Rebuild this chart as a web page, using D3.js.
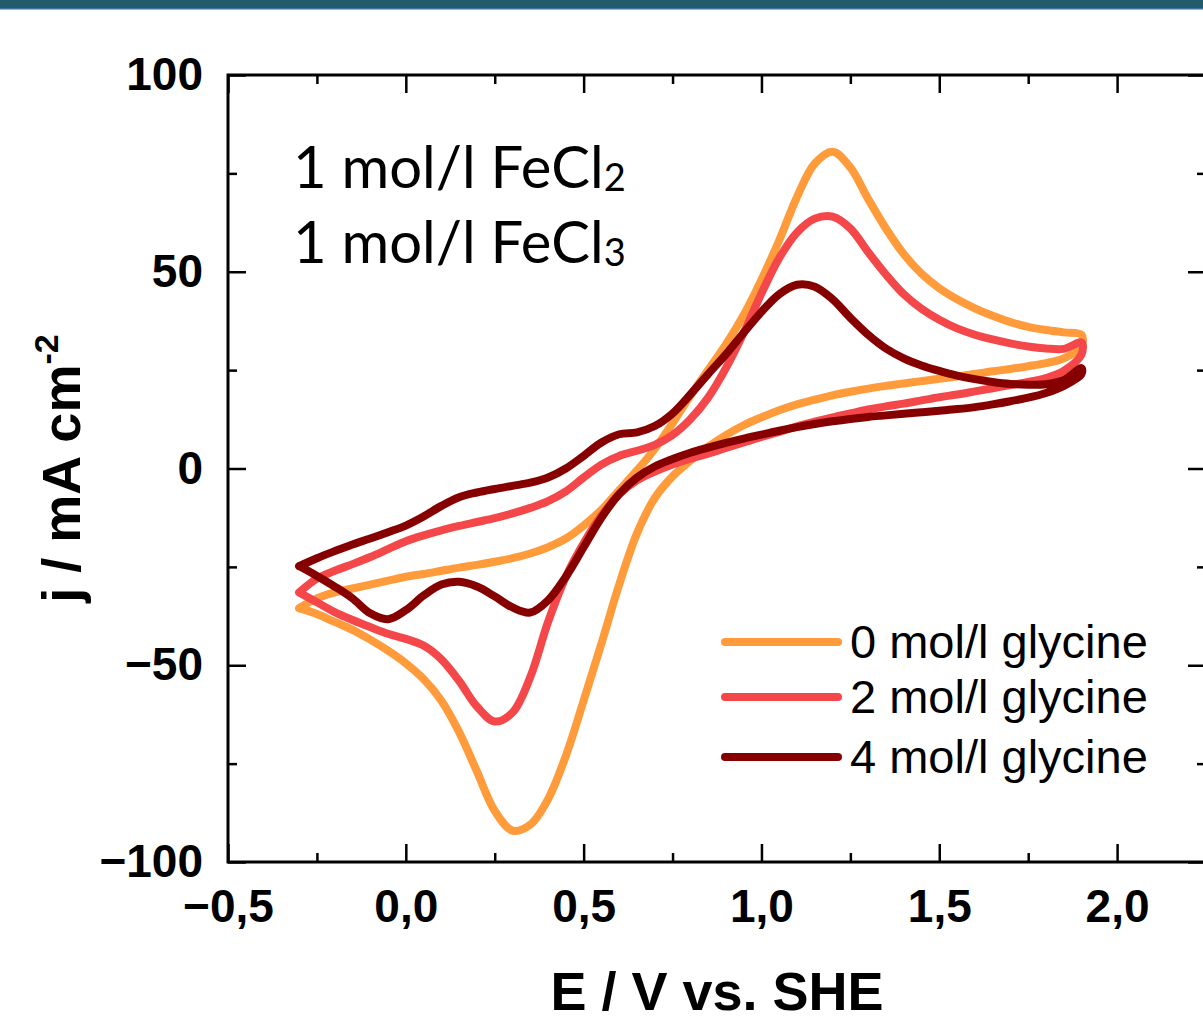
<!DOCTYPE html>
<html>
<head>
<meta charset="utf-8">
<style>
  body { margin: 0; background: #fff; }
  .tick text { font-family: "Liberation Sans", Arial, sans-serif; font-weight: bold; font-size: 46px; fill: #000; }
  .tick line { stroke: #000; stroke-width: 2.5; }
  .cv { fill: none; stroke-width: 8; stroke-linejoin: round; stroke-linecap: round; }
</style>
<title>CV glycine</title>
</head>
<body>
<svg width="1203" height="1016"></svg>
<script src="https://d3js.org/d3.v7.min.js"></script>
<script>
// potential grid (V vs. SHE), both scan directions share it
const potential = [-0.30, -0.25, -0.20, -0.15, -0.10, -0.05, 0.00, 0.05, 0.10, 0.15,
  0.20, 0.25, 0.30, 0.35, 0.40, 0.45, 0.50, 0.55, 0.60, 0.65,
  0.70, 0.75, 0.80, 0.85, 0.90, 0.95, 1.00, 1.05, 1.10, 1.15,
  1.20, 1.25, 1.30, 1.35, 1.40, 1.45, 1.50, 1.55, 1.60, 1.65,
  1.70, 1.75, 1.80, 1.85, 1.90];

// current density, mA cm-2 ; forward = anodic scan, reverse = cathodic scan (listed low -> high E)
const gly0Forward = [-35.5, -33, -31.5, -30.5, -29.5, -28.5, -27.5, -26.8, -26, -25.2,
  -24.5, -23.7, -22.8, -21.6, -20, -17.8, -14.5, -10.5, -5.5, -0.5,
  5, 11.5, 18.5, 25, 31.5, 39, 48, 58, 69, 77.5,
  80.5, 76.5, 68.5, 61, 54.5, 49.5, 45.8, 43, 40.7, 38.8,
  37.2, 36, 35.2, 34.6, 34];
const gly0Reverse = [-35.5, -37, -39, -41, -43.5, -46.3, -49.5, -53.5, -59, -67,
  -77, -87, -92, -90.5, -84, -73, -59, -44.5, -29.5, -16.5,
  -7.5, -2, 2, 5.5, 8.5, 11, 13, 14.8, 16.3, 17.5,
  18.6, 19.5, 20.3, 21, 21.6, 22.2, 22.8, 23.4, 24, 24.7,
  25.3, 26, 26.8, 28, 31];

const gly2Forward = [-31.5, -28, -26, -24.3, -22.5, -20.5, -18.5, -17, -15.7, -14.6,
  -13.6, -12.6, -11.4, -10, -8.3, -5.8, -2.3, 1, 3.2, 4.5,
  6, 8.5, 12.5, 18, 25.5, 34.5, 44.5, 53.5, 60, 63.5,
  64, 61, 55, 49.3, 44.3, 40.6, 37.8, 35.6, 34, 32.8,
  31.8, 31, 30.5, 30.4, 32];
const gly2Reverse = [-31.5, -34, -36.5, -38.5, -40.3, -42, -43.3, -45, -48.5, -54,
  -60.5, -64.3, -62, -53, -39, -27.5, -19, -12, -6.5, -3,
  -0.8, 1, 2.5, 3.8, 5.2, 6.6, 8, 9.3, 10.7, 11.9,
  13, 14, 15, 15.8, 16.5, 17.3, 18.1, 18.8, 19.6, 20.4,
  21.2, 22, 23, 24.8, 29];

const gly4Forward = [-24.8, -22.8, -21, -19.3, -17.8, -16.2, -14.5, -12.2, -9.5, -7.3,
  -6.1, -5.2, -4.4, -3.6, -2.3, 0, 3.2, 6.6, 8.7, 9.2,
  10.8, 14, 18.8, 24, 29, 34.5, 39.8, 44.3, 46.7, 46.2,
  43, 38.3, 34, 30.5, 28, 26.2, 24.8, 23.6, 22.7, 22,
  21.5, 21.3, 21.4, 22.5, 25.5];
const gly4Reverse = [-24.8, -27.3, -30, -33, -36.8, -38.3, -36, -32.3, -29.5, -28.8,
  -30, -32.5, -35.3, -36.6, -33.5, -27.5, -20, -12.5, -6.5, -2.3,
  0.5, 2.4, 4, 5.3, 6.5, 7.6, 8.6, 9.6, 10.5, 11.3,
  12, 12.6, 13.1, 13.5, 13.9, 14.3, 14.7, 15.1, 15.6, 16.3,
  17.1, 18, 19.2, 21, 24];

const seriesNames = ["0 mol/l glycine", "2 mol/l glycine", "4 mol/l glycine"];
const seriesColors = ["#ff9b3a", "#f4474a", "#860000"];

const xTicks = [-0.5, 0, 0.5, 1, 1.5, 2];
const xTickLabels = ["\u22120,5", "0,0", "0,5", "1,0", "1,5", "2,0"];
const xMinorTicks = [-0.25, 0.25, 0.75, 1.25, 1.75];
const yTicks = [-100, -50, 0, 50, 100];
const yTickLabels = ["\u2212100", "\u221250", "0", "50", "100"];
const yMinorTicks = [-75, -25, 25, 75];

var svg = d3.select("svg"),
    width = +svg.attr("width"),
    height = +svg.attr("height");

svg.append("rect").attr("width", width).attr("height", height).attr("fill", "#fff");

// header band
svg.append("rect").attr("x", 0).attr("y", 0).attr("width", width).attr("height", 9).attr("fill", "#235a6c");
svg.append("rect").attr("x", 0).attr("y", 8).attr("width", width).attr("height", 1.5).attr("fill", "#3f7397");

var plot = { left: 228, right: 1206, top: 75, bottom: 862 };

var x = d3.scaleLinear().domain([-0.5, 2.25]).range([plot.left, plot.right]);
var y = d3.scaleLinear().domain([-100, 100]).range([plot.bottom, plot.top]);

// axes, inward ticks on all four sides
function addAxis(axis, tx, ty) {
  var g = svg.append("g").attr("transform", "translate(" + tx + "," + ty + ")").call(axis);
  g.select(".domain").remove();
  return g;
}

addAxis(d3.axisBottom(x).tickValues(xTicks).tickSize(-18).tickPadding(27)
  .tickFormat(function(d, i) { return xTickLabels[i]; }), 0, plot.bottom);
addAxis(d3.axisBottom(x).tickValues(xMinorTicks).tickSize(-9).tickFormat(""), 0, plot.bottom);
addAxis(d3.axisTop(x).tickValues(xTicks).tickSize(-18).tickFormat(""), 0, plot.top);
addAxis(d3.axisTop(x).tickValues(xMinorTicks).tickSize(-9).tickFormat(""), 0, plot.top);

addAxis(d3.axisLeft(y).tickValues(yTicks).tickSize(-18).tickPadding(25)
  .tickFormat(function(d, i) { return yTickLabels[i]; }), plot.left, 0);
addAxis(d3.axisLeft(y).tickValues(yMinorTicks).tickSize(-9).tickFormat(""), plot.left, 0);
addAxis(d3.axisRight(y).tickValues(yTicks).tickSize(-18).tickFormat(""), plot.right, 0);
addAxis(d3.axisRight(y).tickValues(yMinorTicks).tickSize(-9).tickFormat(""), plot.right, 0);

svg.append("rect")
  .attr("x", plot.left).attr("y", plot.top)
  .attr("width", plot.right - plot.left).attr("height", plot.bottom - plot.top)
  .attr("fill", "none").attr("stroke", "#000").attr("stroke-width", 3);

// CV loops
var line = d3.line()
  .x(function(d) { return x(d[0]); })
  .y(function(d) { return y(d[1]); })
  .curve(d3.curveCatmullRom.alpha(0.5));

var loops = [[gly0Forward, gly0Reverse], [gly2Forward, gly2Reverse], [gly4Forward, gly4Reverse]];

svg.append("g").selectAll("path")
  .data(loops)
  .enter().append("path")
    .attr("class", "cv")
    .attr("stroke", function(d, i) { return seriesColors[i]; })
    .attr("d", function(d) {
      var fwd = potential.map(function(e, k) { return [e, d[0][k]]; });
      var rev = potential.map(function(e, k) { return [e, d[1][k]]; }).reverse();
      return line(fwd.concat(rev));
    });

// legend
var legend = svg.append("g").attr("transform", "translate(725,642)");
var item = legend.selectAll("g")
  .data(seriesNames)
  .enter().append("g")
    .attr("transform", function(d, i) { return "translate(0," + [0, 55, 115][i] + ")"; });
item.append("line")
  .attr("x1", 0).attr("x2", 113).attr("y1", 0).attr("y2", 0)
  .attr("stroke", function(d, i) { return seriesColors[i]; })
  .attr("stroke-width", 8).attr("stroke-linecap", "round");
item.append("text")
  .attr("x", 125).attr("y", 16)
  .style("font-family", "'Liberation Sans', Arial, sans-serif")
  .style("font-size", "47px")
  .attr("fill", "#000")
  .text(function(d) { return d; });

// annotation
var note = svg.append("g")
  .style("font-family", "Lato, 'Open Sans', sans-serif")
  .style("font-size", "58px")
  .attr("fill", "#000");
[["1 mol/l FeCl", "2", 188], ["1 mol/l FeCl", "3", 263]].forEach(function(r) {
  var t = note.append("text").attr("x", 293).attr("y", r[2]);
  t.append("tspan").text(r[0]);
  t.append("tspan").attr("dy", 3).style("font-size", "38px").text(r[1]);
});

// axis titles
svg.append("text")
  .attr("x", (plot.left + plot.right) / 2).attr("y", 1010)
  .attr("text-anchor", "middle")
  .style("font-family", "'Liberation Sans', Arial, sans-serif")
  .style("font-weight", "bold").style("font-size", "54px")
  .text("E / V vs. SHE");

var yt = svg.append("text")
  .attr("transform", "translate(80," + ((plot.top + plot.bottom) / 2) + ") rotate(-90)")
  .attr("text-anchor", "middle")
  .style("font-family", "'Liberation Sans', Arial, sans-serif")
  .style("font-weight", "bold").style("font-size", "54px");
yt.append("tspan").text("j / mA cm");
yt.append("tspan").attr("dy", -22).style("font-size", "34px").text("-2");
</script>
</body>
</html>
